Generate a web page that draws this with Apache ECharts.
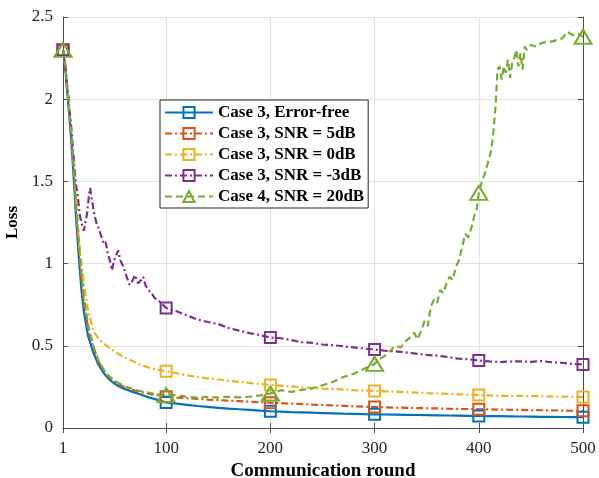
<!DOCTYPE html>
<html>
<head>
<meta charset="utf-8">
<script src="https://cdn.jsdelivr.net/npm/echarts@6/dist/echarts.min.js"></script>
<style>
  html, body { margin: 0; padding: 0; background: #fff; }
  #charts { width: 599px; height: 478px; }
</style>
</head>
<body>
<div id="charts"></div>
<script>
// rounds where the markers sit
var markRounds = [1, 100, 200, 300, 400, 500];
var xTicks = [1, 100, 200, 300, 400, 500];

// shared x values for the smooth curves
var roundsMain = [1, 3, 5, 7, 9, 11, 13, 15, 17, 19, 21, 25, 30, 35, 40, 45, 50, 55, 60, 65, 70, 75, 80, 85, 90, 95, 100,
  110, 120, 130, 140, 150, 160, 170, 180, 190, 200, 210, 220, 230, 240, 250, 260, 270, 280, 290, 300,
  310, 320, 330, 340, 350, 360, 370, 380, 390, 400, 410, 420, 430, 440, 450, 460, 470, 480, 490, 500];

var lossErrorFree = [2.30, 2.20, 2.05, 1.90, 1.74, 1.55, 1.34, 1.14, 0.97, 0.82, 0.71, 0.56, 0.46, 0.385, 0.335, 0.298, 0.272, 0.252, 0.238, 0.226, 0.215, 0.205, 0.193, 0.183, 0.174, 0.165, 0.155,
  0.148, 0.141, 0.134, 0.128, 0.123, 0.118, 0.114, 0.110, 0.106, 0.102, 0.100, 0.097, 0.095, 0.093, 0.091, 0.089, 0.087, 0.086, 0.084, 0.083,
  0.082, 0.081, 0.080, 0.079, 0.078, 0.077, 0.076, 0.075, 0.074, 0.073, 0.072, 0.072, 0.071, 0.070, 0.069, 0.068, 0.068, 0.067, 0.066, 0.066];

var loss5dB = [2.30, 2.21, 2.07, 1.93, 1.78, 1.60, 1.40, 1.20, 1.03, 0.88, 0.77, 0.61, 0.49, 0.405, 0.350, 0.310, 0.285, 0.265, 0.250, 0.238, 0.228, 0.220, 0.213, 0.206, 0.200, 0.195, 0.190,
  0.185, 0.181, 0.177, 0.173, 0.170, 0.166, 0.163, 0.160, 0.157, 0.154, 0.151, 0.148, 0.145, 0.142, 0.140, 0.137, 0.135, 0.132, 0.130, 0.127,
  0.126, 0.124, 0.123, 0.121, 0.120, 0.119, 0.117, 0.116, 0.115, 0.114, 0.113, 0.112, 0.111, 0.110, 0.109, 0.108, 0.107, 0.106, 0.105, 0.105];

var loss0dB = [2.30, 2.21, 2.08, 1.94, 1.80, 1.63, 1.44, 1.25, 1.10, 0.98, 0.88, 0.72, 0.59, 0.545, 0.515, 0.490, 0.468, 0.447, 0.430, 0.415, 0.400, 0.385, 0.375, 0.364, 0.357, 0.351, 0.345,
  0.333, 0.320, 0.310, 0.302, 0.295, 0.287, 0.280, 0.274, 0.268, 0.262, 0.258, 0.253, 0.248, 0.244, 0.240, 0.237, 0.234, 0.230, 0.228, 0.225,
  0.223, 0.221, 0.218, 0.215, 0.212, 0.210, 0.207, 0.205, 0.203, 0.200, 0.198, 0.196, 0.196, 0.195, 0.194, 0.193, 0.192, 0.191, 0.190, 0.188];

// noisier curve, denser early on
var roundsM3dB = [1, 3, 5, 7, 9, 11, 13, 15, 17, 19, 21, 22, 24, 26, 27, 29, 31, 33, 36, 40, 42, 44, 46, 48, 50, 52, 54, 56, 59, 62, 65, 68, 70, 73, 76, 78, 80, 83, 86, 89, 92, 95, 100,
  110, 120, 130, 140, 150, 160, 170, 180, 190, 200, 210, 220, 230, 240, 250, 260, 270, 280, 290, 300,
  310, 320, 330, 340, 350, 360, 370, 380, 390, 400, 410, 420, 430, 440, 450, 460, 470, 480, 490, 500];
var lossM3dB = [2.30, 2.21, 2.08, 1.95, 1.82, 1.66, 1.50, 1.42, 1.30, 1.24, 1.20, 1.19, 1.30, 1.42, 1.46, 1.38, 1.30, 1.25, 1.20, 1.12, 1.13, 1.06, 1.02, 0.96, 1.02, 1.05, 1.08, 1.02, 0.98, 0.92, 0.87, 0.90, 0.93, 0.88, 0.90, 0.92, 0.87, 0.84, 0.82, 0.79, 0.78, 0.76, 0.73,
  0.710, 0.685, 0.660, 0.645, 0.632, 0.608, 0.592, 0.577, 0.565, 0.550, 0.546, 0.535, 0.522, 0.518, 0.508, 0.504, 0.497, 0.490, 0.483, 0.478,
  0.470, 0.466, 0.460, 0.452, 0.445, 0.440, 0.432, 0.422, 0.418, 0.410, 0.405, 0.401, 0.404, 0.406, 0.402, 0.407, 0.400, 0.396, 0.390, 0.386];

// case 4 diverges after round ~250
var roundsCase4 = [1, 3, 5, 7, 9, 11, 13, 15, 17, 19, 21, 25, 30, 35, 40, 45, 50, 55, 60, 65, 70, 75, 80, 85, 90, 95, 100,
  110, 120, 130, 140, 150, 160, 170, 180, 190, 200, 210, 220, 230, 240, 250, 260, 270, 280, 290, 300,
  305, 310, 315, 320, 325, 330, 335, 338, 341, 344, 348, 351, 354, 357, 360, 363, 366, 369, 372, 375, 378, 381, 384, 387, 390, 393, 396, 398, 400,
  403, 406, 409, 412, 414, 416, 418, 420, 422, 424, 426, 428, 430, 432, 434, 436, 438, 440, 442, 444, 446,
  450, 455, 460, 465, 470, 475, 480, 485, 490, 495, 500];
var lossCase4 = [2.30, 2.22, 2.08, 1.94, 1.80, 1.62, 1.43, 1.24, 1.07, 0.92, 0.80, 0.63, 0.50, 0.41, 0.355, 0.315, 0.290, 0.270, 0.255, 0.243, 0.233, 0.225, 0.218, 0.212, 0.207, 0.203, 0.200,
  0.200, 0.190, 0.185, 0.190, 0.185, 0.190, 0.186, 0.190, 0.198, 0.210, 0.230, 0.220, 0.232, 0.240, 0.260, 0.280, 0.310, 0.330, 0.360, 0.390,
  0.42, 0.44, 0.47, 0.50, 0.49, 0.53, 0.555, 0.58, 0.54, 0.58, 0.65, 0.62, 0.74, 0.78, 0.76, 0.84, 0.82, 0.88, 0.92, 0.90, 0.98, 1.02, 1.10, 1.18, 1.16, 1.22, 1.30, 1.33, 1.43,
  1.50, 1.55, 1.62, 1.69, 1.80, 1.95, 2.18, 2.20, 2.12, 2.20, 2.16, 2.24, 2.13, 2.22, 2.25, 2.30, 2.20, 2.28, 2.18, 2.32, 2.30,
  2.33, 2.32, 2.34, 2.35, 2.35, 2.36, 2.37, 2.41, 2.39, 2.40, 2.38];

var seriesNames = ['Case 3, Error-free', 'Case 3, SNR = 5dB', 'Case 3, SNR = 0dB', 'Case 3, SNR = -3dB', 'Case 4, SNR = 20dB'];

var serif = 'Liberation Serif';
var axisColor = '#4d4d4d';

function buildData(rounds, vals) {
  return rounds.map(function (r, i) {
    var item = { value: [r, vals[i]] };
    if (markRounds.indexOf(r) < 0) item.symbol = 'none';
    return item;
  });
}

function makeSeries(name, rounds, vals, color, dash, symbol, size) {
  return {
    name: name,
    type: 'line',
    data: buildData(rounds, vals),
    symbol: symbol,
    symbolSize: size,
    lineStyle: { color: color, width: 2.2, type: dash },
    itemStyle: { color: 'transparent', borderColor: color, borderWidth: 2 },
    emphasis: { disabled: true },
    animation: false
  };
}

var chart = echarts.init(document.getElementById('charts'));
var option = {
  backgroundColor: '#fff',
  animation: false,
  grid: { left: 63, right: 16, top: 17, bottom: 50, outerBoundsMode: 'none' },
  legend: {
    orient: 'vertical',
    left: 160,
    top: 100,
    itemWidth: 48,
    itemHeight: 14,
    itemGap: 4,
    padding: [4, 4, 3, 4],
    backgroundColor: '#fff',
    borderColor: '#262626',
    borderWidth: 1,
    textStyle: { fontFamily: serif, fontWeight: 'bold', fontSize: 17, color: '#000' },
    data: seriesNames
  },
  xAxis: [{
    type: 'value',
    min: 1,
    max: 500,
    position: 'bottom',
    name: 'Communication round',
    nameLocation: 'middle',
    nameGap: 29,
    nameTextStyle: { fontFamily: serif, fontWeight: 'bold', fontSize: 19, color: '#000' },
    axisLine: { show: true, lineStyle: { color: axisColor, width: 1 } },
    axisTick: { inside: true, length: 5, customValues: xTicks, lineStyle: { color: axisColor } },
    axisLabel: { customValues: xTicks, fontFamily: serif, fontSize: 17, color: '#262626', margin: 12 },
    splitLine: { show: true, lineStyle: { color: '#e3e3e3', width: 1 } }
  }, {
    type: 'value',
    min: 1,
    max: 500,
    position: 'top',
    axisLine: { show: true, lineStyle: { color: axisColor, width: 1 } },
    axisTick: { inside: true, length: 5, customValues: xTicks, lineStyle: { color: axisColor } },
    axisLabel: { show: false },
    splitLine: { show: false }
  }],
  yAxis: [{
    type: 'value',
    min: 0,
    max: 2.5,
    interval: 0.5,
    name: 'Loss',
    nameLocation: 'middle',
    nameGap: 35,
    nameRotate: 90,
    nameTextStyle: { fontFamily: serif, fontWeight: 'bold', fontSize: 17, color: '#000' },
    axisLine: { show: true, lineStyle: { color: axisColor, width: 1 } },
    axisTick: { show: true, inside: true, length: 5, lineStyle: { color: axisColor } },
    axisLabel: { fontFamily: serif, fontSize: 17, color: '#262626', margin: 10 },
    splitLine: { show: true, lineStyle: { color: '#e3e3e3', width: 1 } }
  }, {
    type: 'value',
    min: 0,
    max: 2.5,
    interval: 0.5,
    position: 'right',
    axisLine: { show: true, lineStyle: { color: axisColor, width: 1 } },
    axisTick: { show: true, inside: true, length: 5, lineStyle: { color: axisColor } },
    axisLabel: { show: false },
    splitLine: { show: false }
  }],
  series: [
    makeSeries(seriesNames[0], roundsMain, lossErrorFree, '#0072BD', 'solid', 'rect', 11),
    makeSeries(seriesNames[1], roundsMain, loss5dB, '#D95319', [7, 3, 2, 3], 'rect', 11),
    makeSeries(seriesNames[2], roundsMain, loss0dB, '#EDB120', [7, 3, 2, 3], 'rect', 11),
    makeSeries(seriesNames[3], roundsM3dB, lossM3dB, '#7E2F8E', [7, 3, 2, 3], 'rect', 11),
    makeSeries(seriesNames[4], roundsCase4, lossCase4, '#77AC30', [7, 4], 'triangle', [17, 14])
  ]
};
chart.setOption(option);
</script>
</body>
</html>
